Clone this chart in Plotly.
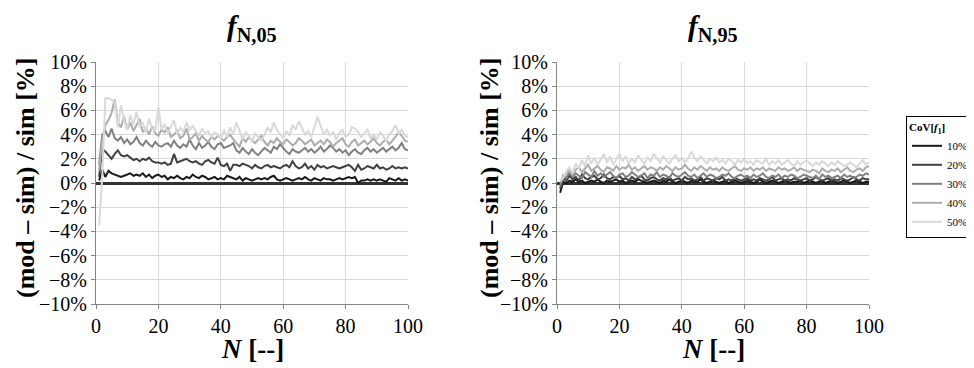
import plotly.graph_objects as go

# CoV levels (legend) and line colours
cov_labels = ["10%", "20%", "30%", "40%", "50%"]
colors = ["#1a1a1a", "#404040", "#808080", "#acacac", "#d9d9d9"]

# left panel: f_N,05 relative error [%], N = 1..100
left_10 = [0.2, 1.1, 0.5, 1.0, 0.8, 0.7, 0.6, 0.5, 0.6, 0.7, 0.8, 0.6, 0.7, 0.6, 0.8, 0.5, 0.7, 0.4, 0.6, 0.7,
           0.5, 0.6, 0.3, 0.5, 0.4, 0.6, 0.4, 0.3, 0.5, 0.4, 0.7, 0.5, 0.4, 0.6, 0.5, 0.3, 0.4, 0.5, 0.3, 0.4,
           0.3, 0.6, 0.5, 0.4, 0.3, 0.5, 0.2, 0.4, 0.3, 0.2, 0.3, 0.4, 0.3, 0.4, 0.3, 0.5, 0.6, 0.3, 0.2, 0.3,
           0.4, 0.3, 0.2, 0.3, 0.4, 0.3, 0.5, 0.3, 0.2, 0.4, 0.3, 0.2, 0.4, 0.3, 0.3, 0.2, 0.3, 0.4, 0.3, 0.4,
           0.5, 0.4, 0.5, 0.0, 0.2, 0.2, 0.3, 0.2, 0.3, 0.2, 0.3, 0.2, 0.1, 0.4, 0.3, 0.2, 0.4, 0.2, 0.3, 0.2]
left_20 = [0.5, 2.8, 2.6, 2.3, 2.0, 2.4, 2.7, 2.3, 2.2, 2.3, 2.1, 1.9, 2.0, 1.8, 2.0, 1.9, 2.1, 1.8, 1.7, 1.7,
           1.6, 1.7, 1.5, 1.6, 2.4, 1.7, 1.8, 1.9, 2.0, 1.8, 1.7, 1.8, 1.6, 1.5, 1.8, 1.9, 1.7, 1.6, 2.1, 1.5,
           1.4, 1.6, 1.0, 1.5, 1.5, 1.4, 1.6, 1.5, 1.4, 1.2, 1.5, 1.3, 1.2, 1.4, 1.5, 1.3, 1.4, 1.3, 1.2, 1.4,
           1.5, 1.3, 1.8, 1.4, 1.2, 1.3, 1.6, 1.2, 1.4, 1.1, 1.5, 1.3, 1.4, 1.2, 1.3, 1.4, 1.3, 1.2, 1.3, 1.4,
           1.5, 1.3, 1.0, 1.5, 1.1, 1.2, 1.4, 1.3, 1.2, 1.5, 1.2, 1.3, 1.1, 1.2, 1.4, 1.2, 1.3, 1.2, 1.3, 1.2]
left_30 = [1.5, 4.0, 4.3, 3.8, 4.5, 3.7, 3.5, 3.8, 3.3, 3.6, 3.2, 3.4, 3.8, 3.3, 3.1, 3.5, 3.2, 3.0, 3.4, 3.1,
           3.0, 3.2, 3.3, 3.0, 3.5, 3.1, 2.9, 3.2, 3.0, 3.6, 3.1, 2.8, 3.3, 2.9, 3.1, 3.4, 3.0, 2.8, 3.2, 3.3,
           2.9, 3.0, 3.1, 3.3, 2.7, 2.5, 2.9, 2.6, 2.4, 2.8, 2.5, 2.3, 2.6, 2.9, 2.7, 2.5, 3.0, 2.8, 3.2, 2.9,
           2.6, 2.4, 2.8, 2.6, 2.5, 2.7, 2.9, 2.6, 2.8, 2.5, 2.7, 3.0, 2.6, 2.8, 3.1, 2.9, 2.6, 2.8, 2.5, 2.7,
           2.3, 2.6, 2.8, 2.5, 2.4, 2.7, 2.9, 2.6, 2.8, 2.5, 2.7, 2.9, 2.6, 2.8, 3.0, 2.7, 2.9, 3.3, 2.8, 2.7]
left_40 = [1.0, 3.5, 4.8, 5.2, 5.8, 6.9, 5.0, 4.6, 5.5, 4.4, 5.0, 4.3, 4.8, 5.3, 4.2, 4.5, 4.0, 4.7, 4.1, 3.9,
           4.4, 4.2, 4.6, 3.8, 4.0, 4.3, 3.7, 3.9, 4.5, 3.6, 3.8, 4.1, 3.5, 3.9, 3.6, 3.4, 3.8, 3.6, 3.9, 3.7,
           3.5, 3.8, 4.0, 3.6, 3.3, 3.0, 3.7, 3.4, 3.8, 3.5, 3.3, 3.6, 3.9, 3.4, 3.1, 3.5, 3.3, 3.7, 3.4, 3.2,
           3.6, 3.4, 3.1, 3.3, 3.7, 3.5, 3.2, 3.4, 3.6, 3.1, 3.3, 3.5, 3.2, 3.6, 3.4, 3.0, 3.3, 3.5, 3.7, 3.2,
           3.0, 3.4, 3.6, 3.1, 3.3, 3.5, 3.2, 3.4, 3.7, 3.3, 3.1, 3.4, 3.6, 3.2, 3.5, 3.8, 4.2, 3.9, 3.5, 3.4]
left_50 = [-3.5, 0.5, 7.0, 7.0, 6.9, 6.7, 4.6, 6.4, 5.2, 4.4, 5.6, 4.8, 5.9, 4.6, 5.0, 4.2, 5.3, 4.5, 4.3, 6.3,
           4.4, 4.9, 4.1, 4.6, 5.2, 4.0, 4.6, 4.2, 5.0, 4.4, 4.7, 4.3, 3.9, 4.5, 4.1, 4.3, 3.8, 4.2, 4.0, 3.7,
           4.4, 3.8, 4.6, 4.0, 5.0, 4.3, 3.6, 4.2, 3.9, 3.4, 4.1, 3.8, 3.5, 4.0, 4.6, 4.2, 5.0, 4.4, 4.0, 3.7,
           4.3, 3.9, 4.8, 4.4, 5.1, 4.5, 4.0, 4.3, 3.8, 4.6, 5.5, 4.7, 4.0, 4.4, 3.9, 4.2, 3.6, 4.1, 4.4, 3.8,
           4.0, 4.6, 4.5, 4.2, 3.8, 4.1, 4.4, 3.7, 4.0, 3.6, 4.2, 3.9, 3.5, 4.0, 4.3, 4.8, 4.1, 4.4, 3.9, 3.8]

# right panel: f_N,95 relative error [%], N = 1..100
right_10 = [-0.8, 0.1, 0.0, 0.2, 0.1, 0.3, 0.1, 0.2, 0.0, 0.1, 0.2, 0.1, 0.3, 0.1, 0.0, 0.2, 0.1, 0.2, 0.3, 0.1,
            0.2, 0.0, 0.1, 0.2, 0.1, 0.3, 0.2, 0.1, 0.0, 0.1, 0.2, 0.1, 0.0, 0.2, 0.1, 0.3, 0.1, 0.0, 0.1, 0.2,
            0.1, 0.0, 0.2, 0.1, 0.1, 0.3, 0.1, 0.0, 0.1, 0.2, 0.1, 0.0, 0.1, 0.2, 0.0, 0.1, 0.2, 0.1, 0.0, 0.1,
            0.2, 0.1, 0.0, 0.1, 0.3, 0.1, 0.0, 0.1, 0.2, 0.1, 0.0, 0.1, 0.2, 0.1, 0.0, 0.1, 0.1, 0.2, 0.0, 0.1,
            0.2, 0.1, 0.0, 0.1, 0.2, 0.0, 0.1, 0.2, 0.1, 0.0, 0.1, 0.2, 0.1, 0.0, 0.1, 0.2, 0.1, 0.0, 0.1, 0.1]
right_20 = [-0.5, 0.4, 0.2, 0.6, 0.3, 0.5, 0.2, 0.7, 0.4, 0.3, 0.5, 0.6, 0.3, 0.4, 0.7, 0.4, 0.3, 0.5, 0.4, 0.6,
            0.3, 0.4, 0.2, 0.5, 0.3, 0.4, 0.6, 0.3, 0.2, 0.4, 0.5, 0.3, 0.2, 0.4, 0.3, 0.5, 0.2, 0.3, 0.4, 0.2,
            0.5, 0.3, 0.4, 0.2, 0.3, 0.5, 0.2, 0.4, 0.3, 0.2, 0.4, 0.3, 0.5, 0.2, 0.3, 0.2, 0.4, 0.3, 0.2, 0.3,
            0.4, 0.2, 0.3, 0.2, 0.4, 0.3, 0.2, 0.3, 0.5, 0.2, 0.3, 0.4, 0.2, 0.3, 0.2, 0.4, 0.3, 0.2, 0.3, 0.4,
            0.2, 0.3, 0.5, 0.3, 0.2, 0.3, 0.4, 0.2, 0.3, 0.2, 0.4, 0.3, 0.2, 0.3, 0.5, 0.3, 0.2, 0.4, 0.3, 0.3]
right_30 = [-0.3, 0.6, 0.4, 0.9, 0.5, 0.8, 0.6, 0.4, 0.9, 0.7, 0.5, 1.0, 0.6, 0.8, 0.5, 0.7, 0.9, 0.6, 0.4, 0.7,
            0.8, 0.5, 0.6, 0.9, 0.7, 0.5, 0.6, 0.8, 0.4, 0.7, 0.6, 0.9, 0.5, 0.7, 0.6, 0.4, 0.8, 0.6, 0.5, 0.7,
            0.9, 0.6, 0.5, 0.7, 0.4, 0.6, 0.8, 0.5, 0.7, 0.6, 0.4, 0.5, 0.7, 0.6, 0.8, 0.5, 0.4, 0.6, 0.7, 0.5,
            0.6, 0.4, 0.7, 0.5, 0.6, 0.8, 0.5, 0.4, 0.6, 0.5, 0.7, 0.4, 0.6, 0.5, 0.7, 0.6, 0.4, 0.5, 0.7, 0.6,
            0.5, 0.4, 0.6, 0.3, 0.7, 0.5, 0.6, 0.4, 0.5, 0.6, 0.4, 0.7, 0.5, 0.6, 0.4, 0.5, 0.7, 0.6, 0.8, 0.7]
right_40 = [0.0, 0.5, 0.8, 1.0, 0.7, 1.1, 1.3, 0.9, 1.2, 1.5, 1.0, 1.2, 1.4, 1.1, 0.9, 1.3, 1.2, 1.0, 1.4, 1.1,
            1.3, 1.2, 1.5, 1.1, 1.3, 1.0, 1.2, 1.4, 1.1, 1.3, 1.2, 1.0, 1.3, 1.1, 1.4, 1.2, 1.0, 1.3, 1.1, 1.2,
            1.5, 1.2, 1.0, 1.3, 1.1, 1.4, 1.2, 1.0, 1.3, 1.1, 1.2, 1.0, 1.3, 1.1, 1.0, 1.2, 1.4, 1.1, 1.0, 1.2,
            1.1, 1.3, 1.0, 1.2, 1.1, 1.3, 1.0, 1.2, 1.1, 1.0, 1.3, 1.1, 1.2, 1.0, 1.1, 1.3, 1.0, 1.2, 1.1, 1.0,
            0.9, 1.1, 1.0, 0.8, 1.2, 1.0, 0.9, 1.1, 1.0, 1.2, 0.9, 1.1, 1.3, 1.0, 0.9, 1.1, 1.2, 1.0, 1.3, 1.4]
right_50 = [0.2, 0.4, 1.0, 1.3, 0.8, 1.6, 1.2, 1.9, 1.4, 2.3, 1.6, 2.1, 1.5, 2.0, 2.4, 1.7, 2.2, 1.5, 1.9, 2.4,
            1.8, 2.2, 1.6, 2.0, 1.7, 2.3, 1.9, 1.6, 2.1, 1.8, 2.4, 2.0, 1.7, 2.2, 1.9, 1.6, 2.0, 2.3, 1.8, 2.1,
            1.7, 2.0, 2.6, 2.1, 1.8, 2.2, 1.9, 1.6, 2.0, 1.8, 2.1, 1.7, 1.9, 1.6, 2.0, 1.8, 1.5, 1.9, 1.7, 2.0,
            1.6, 1.8, 1.5, 1.9, 1.7, 1.6, 2.0, 1.5, 1.8, 1.6, 1.9, 1.5, 1.7, 1.9, 1.6, 1.4, 1.8, 1.5, 1.7, 1.9,
            1.6, 1.4, 1.7, 1.5, 1.8, 1.6, 1.4, 1.7, 1.5, 1.8, 1.6, 1.4, 1.5, 1.7, 1.5, 1.3, 1.6, 1.9, 1.5, 1.7]

left_series = [left_10, left_20, left_30, left_40, left_50]
right_series = [right_10, right_20, right_30, right_40, right_50]

x_ticks = [0, 20, 40, 60, 80, 100]
y_ticks = [-10, -8, -6, -4, -2, 0, 2, 4, 6, 8, 10]
y_ticktext = [f"{v}%".replace("-", "\u2212") for v in y_ticks]

FONT = "Liberation Serif"
# page body has an 8px margin, so the figure is drawn offset by 8px
OFF = 8
W, H = 974 - OFF, 368 - OFF


def fx(px):
    return (px - OFF) / W


def fy(py):
    return 1 - (py - OFF) / H


fig = go.Figure()

for i, (lab, col) in enumerate(zip(cov_labels, colors)):
    ys = left_series[i]
    fig.add_trace(go.Scatter(
        x=list(range(1, len(ys) + 1)), y=ys, mode="lines", name=lab,
        line=dict(color=col, width=2), legendgroup=lab,
        xaxis="x", yaxis="y",
    ))
for i, (lab, col) in enumerate(zip(cov_labels, colors)):
    ys = right_series[i]
    fig.add_trace(go.Scatter(
        x=list(range(1, len(ys) + 1)), y=ys, mode="lines", name=lab,
        line=dict(color=col, width=2), legendgroup=lab, showlegend=False,
        xaxis="x2", yaxis="y2",
    ))

# plot areas in screen pixels
left_px = (96, 408)
right_px = (557, 869)
top_px, bot_px = 62, 304
ydom = [fy(bot_px), fy(top_px)]


def xaxis_style(px):
    return dict(
        domain=[fx(px[0]), fx(px[1])], range=[0, 100], tickvals=x_ticks,
        showgrid=True, gridcolor="#d9d9d9", gridwidth=1,
        showline=True, linecolor="#868686", linewidth=1,
        ticks="outside", ticklen=4, tickcolor="#868686",
        zeroline=False, tickfont=dict(family=FONT, size=20, color="#000"),
        fixedrange=True, automargin=False,
    )


def yaxis_style(anchor):
    return dict(
        domain=ydom, range=[-10, 10], tickvals=y_ticks, ticktext=y_ticktext,
        showgrid=True, gridcolor="#d9d9d9", gridwidth=1,
        showline=True, linecolor="#868686", linewidth=1,
        ticks="outside", ticklen=4, tickcolor="#868686",
        zeroline=True, zerolinecolor="#333333", zerolinewidth=3,
        tickfont=dict(family=FONT, size=20, color="#000"), anchor=anchor,
        fixedrange=True, automargin=False,
    )


ann = []
for px, sub in [(left_px, "N,05"), (right_px, "N,95")]:
    cx = fx((px[0] + px[1]) / 2)
    ann.append(dict(
        x=cx, y=fy(28), xref="paper", yref="paper", showarrow=False,
        xanchor="center", yanchor="middle",
        text=f"<b><i>f</i><sub>{sub}</sub></b>",
        font=dict(family=FONT, size=29, color="#000"),
    ))
    ann.append(dict(
        x=cx, y=fy(349), xref="paper", yref="paper", showarrow=False,
        xanchor="center", yanchor="middle",
        text="<b><i>N</i> [--]</b>",
        font=dict(family=FONT, size=27, color="#000"),
    ))
for xpx in [25, 489]:
    ann.append(dict(
        x=fx(xpx), y=fy(178), xref="paper", yref="paper", showarrow=False,
        xanchor="center", yanchor="middle",
        text="<b>(mod \u2013 sim) / sim [%]</b>", textangle=-90,
        font=dict(family=FONT, size=26, color="#000"),
    ))

fig.update_layout(
    width=W, height=H,
    margin=dict(l=0, r=0, t=0, b=0, autoexpand=False),
    paper_bgcolor="white", plot_bgcolor="white",
    xaxis=dict(xaxis_style(left_px), anchor="y"),
    yaxis=yaxis_style("x"),
    xaxis2=dict(xaxis_style(right_px), anchor="y2"),
    yaxis2=yaxis_style("x2"),
    annotations=ann,
    showlegend=True,
    legend=dict(
        x=fx(906), y=fy(116), xanchor="left", yanchor="top",
        bordercolor="#000", borderwidth=1, bgcolor="white",
        font=dict(family=FONT, size=11, color="#000"),
        title=dict(text="<b>CoV[<i>f</i><sub>1</sub>]</b>", side="top",
                   font=dict(family=FONT, size=11, color="#000")),
        itemwidth=30, tracegroupgap=0,
    ),
)

fig.write_html("out.html")
